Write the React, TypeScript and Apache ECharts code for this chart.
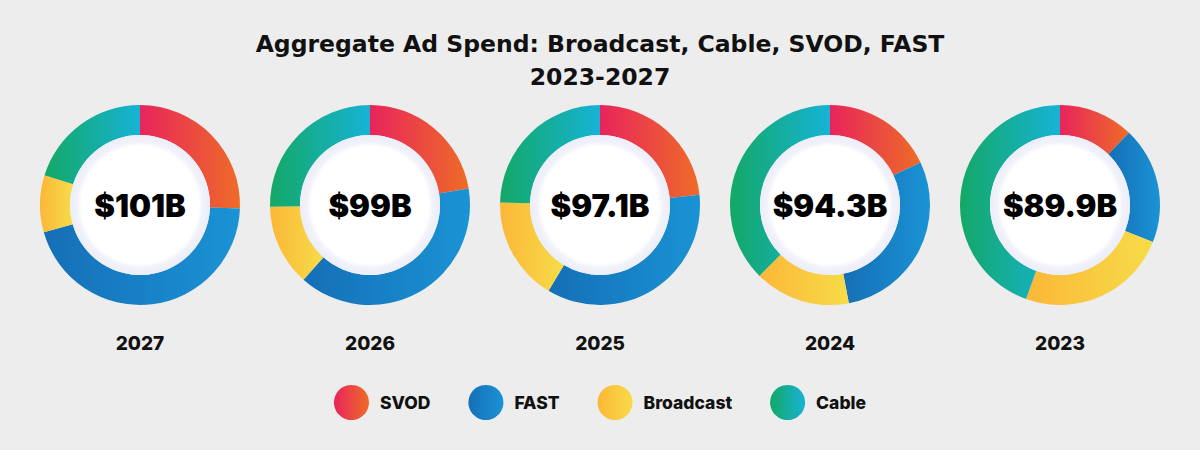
import React, { useEffect, useRef } from 'react';
import * as echarts from 'echarts';

const titleLines = ['Aggregate Ad Spend: Broadcast, Cable, SVOD, FAST', '2023-2027'];
const years = ['2027', '2026', '2025', '2024', '2023'];
const totals = ['$101B', '$99B', '$97.1B', '$94.3B', '$89.9B'];
const segments = ['SVOD', 'FAST', 'Broadcast', 'Cable'];
// Estimated values in $B read from the arc lengths
const svod = [25.8, 22.1, 22.7, 17.0, 10.9];
const fast = [45.5, 38.8, 34.2, 27.3, 17.0];
const broadcast = [9.3, 13.0, 16.3, 14.6, 22.0];
const cable = [20.4, 25.0, 23.9, 35.4, 40.0];

const gradStops: Record<string, [string, string]> = {
  SVOD: ['#e8245c', '#ee6c27'],
  FAST: ['#156fb7', '#1a93d4'],
  Broadcast: ['#fbb738', '#f7dc48'],
  Cable: ['#14a866', '#16b3d6'],
};

const grad = (name: string) =>
  new echarts.graphic.LinearGradient(0, 0, 1, 0, [
    { offset: 0, color: gradStops[name][0] },
    { offset: 1, color: gradStops[name][1] },
  ]);

export default function App() {
  const ref = useRef<HTMLDivElement>(null);
  useEffect(() => {
    if (!ref.current) return;
    const chart = echarts.init(ref.current, undefined, { renderer: 'svg' });
    const values = [svod, fast, broadcast, cable];
    const cx = (i: number) => 140 + i * 230;
    const cy = 205;
    const series: any[] = [];
    years.forEach((y, i) => {
      series.push({
        type: 'pie',
        name: y,
        center: [cx(i), cy],
        radius: [70, 100],
        startAngle: 90,
        clockwise: true,
        silent: true,
        label: { show: false },
        labelLine: { show: false },
        emphasis: { disabled: true },
        data: segments.map((s, k) => ({
          name: s,
          value: values[k][i],
          itemStyle: { color: grad(s) },
        })),
      });
      series.push({
        type: 'pie',
        name: y + ' total',
        center: [cx(i), cy],
        radius: [0, 70],
        silent: true,
        emphasis: { disabled: true },
        labelLine: { show: false },
        label: {
          show: true,
          position: 'center',
          formatter: totals[i],
          fontFamily: 'Inter',
          fontWeight: 900,
          fontSize: 31,
          color: '#000',
        },
        data: [
          {
            name: totals[i],
            value: 1,
            itemStyle: {
              color: new echarts.graphic.RadialGradient(0.5, 0.5, 0.5, [
                { offset: 0, color: '#ffffff' },
                { offset: 0.84, color: '#ffffff' },
                { offset: 0.9, color: '#f1f2fa' },
                { offset: 1, color: '#eceef8' },
              ]),
            },
          },
        ],
      });
    });

    chart.setOption({
      animation: false,
      backgroundColor: '#ededed',
      title: {
        text: titleLines.join('\n'),
        left: 'center',
        top: 27,
        padding: 0,
        textStyle: {
          fontFamily: 'DejaVu Sans',
          fontWeight: 'bold',
          fontSize: 23.5,
          lineHeight: 33,
          color: '#111',
        },
      },
      legend: {
        data: segments,
        left: 'center',
        top: 385,
        padding: 0,
        icon: 'circle',
        itemWidth: 35,
        itemHeight: 35,
        itemGap: 38,
        selectedMode: false,
        textStyle: {
          fontFamily: 'Inter',
          fontWeight: 800,
          fontSize: 17.5,
          color: '#111',
          padding: [0, 0, 0, 6],
        },
      },
      graphic: years.map((y, i) => ({
        type: 'text',
        x: cx(i),
        y: 343,
        style: {
          text: y,
          fill: '#111',
          font: '800 19px Inter',
          textAlign: 'center',
          textVerticalAlign: 'middle',
        },
      })),
      series,
    });
    return () => chart.dispose();
  }, []);
  return (
    <div
      ref={ref}
      style={{ position: 'fixed', left: 0, top: 0, width: 1200, height: 450 }}
    />
  );
}
